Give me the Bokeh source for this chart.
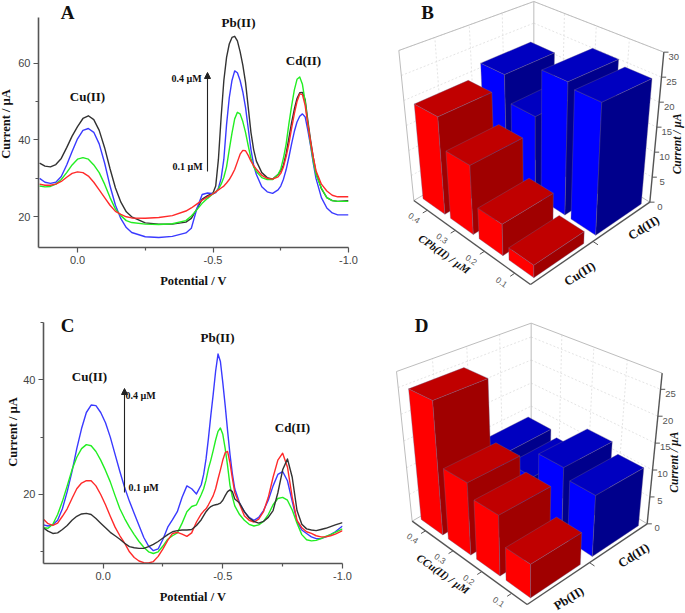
from math import pi
from bokeh.plotting import figure
from bokeh.layouts import column, row
from bokeh.models import Label, Arrow, NormalHead, FixedTicker, Range1d
from bokeh.core.properties import value
from bokeh.embed import file_html
from bokeh.resources import INLINE

# ---------- panel A data ----------
a_potential = [0.14,0.12,0.10,0.08,0.06,0.04,0.02,0.0,-0.02,-0.04,-0.06,-0.08,-0.10,-0.12,-0.14,-0.16,-0.18,-0.2,-0.25,-0.3,-0.35,-0.4,-0.42,-0.44,-0.46,-0.48,-0.5,
               -0.51,-0.52,-0.53,-0.54,-0.55,-0.56,-0.57,-0.58,-0.59,-0.6,-0.61,-0.62,-0.63,-0.64,-0.65,-0.66,-0.68,-0.7,-0.72,-0.74,-0.75,
               -0.76,-0.77,-0.78,-0.79,-0.8,-0.81,-0.82,-0.83,-0.84,-0.85,-0.86,-0.87,-0.88,-0.9,-0.92,-0.94,-0.96,-1.0]
a_black = [34,33.2,33,33.6,35.2,38,41,43.5,45.6,46.3,45.3,42.5,38,32.5,27.5,23.8,21.3,20,18.4,18.1,18.1,18.6,19.6,22,24.6,25.5,26.2,
           28,35,46,55.5,61.5,65,66.7,67,65.8,63,59.5,55,48.5,42,37.5,34.5,31.5,30.2,29.8,31,32,
           33.5,36.5,40.5,44.5,48,50.8,52.3,52.4,50.5,45,40,35.5,31.5,27.3,25,24.2,24,24.2]
a_blue = [30,29,28.7,29,30.5,33.5,37,40.3,42.5,43,42,39,34,28,23,19.5,17.2,15.9,14.8,14.6,14.9,15.8,17,22,25.8,26.2,26,
          26.3,27.5,30,35,44,51,55.5,58,57.5,55.5,52.5,48.5,43,37.5,33.5,31,27.8,26.5,26.1,27,28,
          29.8,32.3,35.5,39,42.2,44.7,46.2,46.8,46,42.5,38.5,34,30,25,22.3,21,20.5,20.5]
a_green = [28,27.8,27.9,28.5,29.7,31.5,33.5,35,35.4,35,33.5,31.5,28.5,25,22,20.3,19,18.5,18.1,18,18.2,19,20.2,21.8,23.5,24.8,26,
           26.5,27.2,28.5,30.3,33,37.5,41.8,45.5,47.2,46.8,44.8,42,38.5,35.2,33,31.8,30.2,29.7,29.7,31,32.4,
           35.3,39,44.2,48.8,53,55.8,56.4,54.5,50,44.2,39,34.5,31,27.5,25,24.2,24,24]
a_red = [28.5,28.2,28.2,28.5,29.2,30.3,31.3,31.7,31.5,30.6,29,27,25,23,21.4,20.6,20,19.7,19.6,19.8,20.3,21.5,22.3,23.3,24.3,25.2,26,
         26.5,27,27.5,28,28.8,29.7,30.9,32.3,34.3,36.3,37.3,37.2,36,34.5,33.3,32.4,30.8,30,29.8,30.4,31.3,
         33,35.7,39,43,46.8,50,52,51.8,49,44,39.5,35.5,32,28.5,26.7,25.6,25.2,25.2]

# ---------- panel C data ----------
c_potential = [0.25,0.23,0.21,0.19,0.17,0.15,0.13,0.11,0.09,0.07,0.05,0.03,0.01,-0.01,-0.03,-0.05,-0.07,-0.09,-0.11,-0.13,-0.15,-0.17,-0.19,-0.21,-0.23,-0.25,-0.27,-0.29,-0.31,-0.33,-0.35,-0.37,-0.39,
               -0.41,-0.42,-0.43,-0.44,-0.45,-0.46,-0.47,-0.48,-0.49,-0.5,-0.51,-0.52,-0.53,-0.54,-0.55,
               -0.57,-0.59,-0.61,-0.63,-0.65,-0.67,-0.69,-0.71,-0.73,-0.75,-0.77,-0.79,-0.81,-0.83,-0.85,-0.87,-0.89,-0.91,-0.93,-0.95,-0.97,-1.0]
c_blue = [14.7,14.5,14.7,15.5,17.5,20.5,24,28,31.5,34.3,35.6,35.5,34.3,32.5,30,27,24,21.2,18.8,16.7,14.6,12.5,11,10.2,10.5,12.2,14.3,15.6,17,19.5,21.5,21,20.1,
          21.7,23.5,26.2,29.8,33.8,37.5,41.5,44.5,43.2,39.5,35.5,31.1,27,23.6,21,
          18.5,17,16,15.5,16,17.2,19,21.5,23.5,24,22.4,18.8,15.3,13.8,13.2,12.6,12.3,12.3,12.6,13,13.5,14.5]
c_green = [14.2,14.1,14.8,16.5,18.8,21.5,24.3,26.5,28,28.7,28.5,27.5,26,24.2,22.2,19.8,17.5,15.8,14.3,13,11.8,10.8,10,9.7,10,11,12.2,12.8,13.3,15,17,17.9,18.2,
           20,21,22.5,24.5,26,27.7,29.5,31,31.6,30.5,28,25,21.6,19.6,18,
           16.5,15.5,14.8,14.5,14.7,15.3,16.5,18.2,19.3,19.5,19,17.3,15,13,12.1,11.9,12,12.3,12.7,13,13.4,14]
c_red = [15.7,14.9,14.6,15,16.2,17.5,19.3,21,22,22.4,22.4,21.5,20,18.2,16.2,14.3,12.8,11.5,10,9,8.4,8.1,8.05,8.3,9.2,10.5,12,13.2,13.4,13.1,12.7,13.3,15.2,
         16.6,17.1,17.5,18.2,19,19.8,21,22.7,24.3,26,27.3,27.5,25.5,22.8,20.3,
         18.3,16.3,15.5,15.2,15.7,17,19.5,23,26,27.2,24.8,19.5,15.5,14.2,13.5,13.2,12.8,12.6,12.6,12.8,13.1,13.7]
c_black = [14.2,13.6,13.2,13.3,13.9,14.6,15.5,16.2,16.6,16.7,16.5,15.8,15,14.2,13.4,12.8,12.2,11.5,10.9,10.7,10.6,10.6,10.9,11.3,11.8,12.4,13,13.5,13.7,13.8,13.8,13.9,14.6,
           15.6,16.3,17,17.5,17.9,18.1,18.2,18.3,18.5,19,19.8,20.5,20.8,20.5,19.2,
           18.5,17,15.9,15.3,15,15.3,16,17.2,20.3,24.3,26.2,23,17.2,14.8,14,13.8,13.7,13.9,14.1,14.4,14.7,15.1]

# ---------- panels B and D data ----------
conc_labels = ["0.4", "0.3", "0.2", "0.1"]
b_series_labels = ["Cu(II)", "Cd(II)"]
b_red_values = [19, 13, 5.7, 2.2]
b_blue_values = [21.5, 16, 26, 25]
b_z_ticks = [0, 5, 10, 15, 20, 25, 30]
d_series_labels = ["Pb(II)", "Cd(II)"]
d_red_values = [24.5, 12.7, 10.3, 5.5]
d_blue_values = [8.6, 7.5, 12.5, 10.7]
d_z_ticks = [0, 5, 10, 15, 20, 25]

SERIF = "Liberation Serif"
SANS = "Liberation Sans"
AXC = "#555555"
LINE_COLORS = dict(black="#333333", blue="#3a3aff", green="#22ee22", red="#ff2a2a")


def line_panel(width, height, left, right, top, bottom, xr, yr, yticks, yminor, curves, texts, ylab_standoff, shift=0):
    # the frame runs to the top of the figure, the y axis stops at its own limit
    kx = (xr[1] - xr[0]) / (right - left)
    ky = (yr[1] - yr[0]) / (bottom - top)
    y_end = yr[1] + top * ky
    p = figure(width=width, height=height, output_backend="svg", toolbar_location=None, title=None,
               x_range=Range1d(xr[0], xr[1]), y_range=Range1d(yr[0], y_end),
               min_border_left=left, min_border_right=width - right, min_border_top=0,
               min_border_bottom=height - bottom, margin=(0, 0, 0, -shift))
    p.frame_width = right - left
    p.frame_height = bottom
    p.grid.visible = False
    p.outline_line_color = None
    p.xaxis.ticker = FixedTicker(ticks=[0, -0.5, -1.0], minor_ticks=[-0.25, -0.75])
    p.xaxis.major_label_overrides = {0: "0.0", -0.5: "-0.5", -1.0: "-1.0"}
    p.yaxis.ticker = FixedTicker(ticks=yticks, minor_ticks=yminor)
    p.yaxis.bounds = (yr[0], yr[1])
    p.xaxis.axis_label = "Potential / V"
    p.yaxis.axis_label = "Current / µA"
    p.xaxis.axis_label_standoff = 7
    p.yaxis.axis_label_standoff = ylab_standoff
    for ax in (p.xaxis, p.yaxis):
        ax.axis_line_color = AXC
        ax.axis_line_width = 1.6
        ax.major_tick_line_color = AXC
        ax.minor_tick_line_color = AXC
        ax.major_tick_line_width = 1.2
        ax.minor_tick_line_width = 1.2
        ax.major_tick_in = 0
        ax.minor_tick_in = 0
        ax.major_tick_out = 5
        ax.minor_tick_out = 3
        ax.major_label_text_font = SANS
        ax.major_label_text_font_size = "11px"
        ax.major_label_text_color = "#444444"
        ax.major_label_standoff = 3
        ax.axis_label_text_font = SERIF
        ax.axis_label_text_font_size = "12.5px"
        ax.axis_label_text_font_style = "bold"
        ax.axis_label_text_color = "#111111"
    xs, names = curves
    for name, ys in names:
        p.line(xs, ys, line_color=LINE_COLORS[name], line_width=1.4, line_join="round")

    def to_data(px, py):
        x = xr[0] + (px + shift - left) * kx
        y = yr[1] - (py - top) * ky
        return x, y

    for txt, px, py, size, style in texts:
        x, y = to_data(px, py)
        p.add_layout(Label(x=x, y=y, text=txt, text_font=SERIF, text_font_size=size,
                           text_font_style=style, text_color="#111111", text_align="center",
                           text_baseline="middle"))
    return p, to_data


def homography(q):
    (x0, y0), (x1, y1), (x2, y2), (x3, y3) = q
    dx1, dx2, sx = x1 - x2, x3 - x2, x0 - x1 + x2 - x3
    dy1, dy2, sy = y1 - y2, y3 - y2, y0 - y1 + y2 - y3
    den = dx1 * dy2 - dx2 * dy1
    g = (sx * dy2 - dx2 * sy) / den
    h = (dx1 * sy - sx * dy1) / den
    a, b, c = x1 - x0 + g * x1, x3 - x0 + h * x3, x0
    d, e, f = y1 - y0 + g * y1, y3 - y0 + h * y3, y0

    def m(s, t):
        w = g * s + h * t + 1
        return (a * s + b * t + c) / w, (d * s + e * t + f) / w
    return m


def bars_panel(y0, floor, ceil, zmax, z_ticks, red, blue, series, letter, letter_xy, xlabel, xlabel_xy, ylab_xy, ser_xy):
    # canvas is addressed in units of one third of a pixel, origin at the panel's crop corner
    height = 300 if y0 == 0 else 313
    off = 0 if y0 == 0 else 30
    p = figure(width=305, height=height, frame_width=305, frame_height=height,
               output_backend="svg", toolbar_location=None, title=None,
               x_range=Range1d(0, 915), y_range=Range1d(height * 3 - off, -off),
               x_axis_location=None, y_axis_location=None,
               min_border_left=0, min_border_right=0, min_border_top=0, min_border_bottom=0)
    p.grid.visible = False
    p.outline_line_color = None
    F = homography(floor)
    T = homography(ceil)

    def P(u, v, z):
        fx, fy = F(u, v)
        tx, ty = T(u, v)
        k = z / zmax
        return fx + k * (tx - fx), fy + k * (ty - fy)

    def seg(a, b, color, width=1.0, dash="solid"):
        p.line([a[0], b[0]], [a[1], b[1]], line_color=color, line_width=width, line_dash=dash)

    # back walls and floor: dotted grid
    grid_c = "#dddddd"
    for z in z_ticks[1:]:
        seg(P(0, 0, z), P(0, 1, z), grid_c, 0.8, "2 2")
        seg(P(0, 1, z), P(1, 1, z), grid_c, 0.8, "2 2")
    for t in (0.25, 0.5, 0.75):
        seg(P(t, 1, 0), P(t, 1, zmax), grid_c, 0.8, "2 2")
        seg(P(0, t, 0), P(0, t, zmax), grid_c, 0.8, "2 2")
    # wall outline
    wall = "#bdbdbd"
    seg(P(0, 0, zmax), P(0, 1, zmax), wall, 1.0)
    seg(P(0, 1, zmax), P(1, 1, zmax), wall, 1.0)
    seg(P(0, 0, 0), P(0, 0, zmax), wall, 1.0)
    seg(P(0, 1, 0), P(0, 1, zmax), wall, 1.0)
    seg(P(0, 0, 0), P(0, 1, 0), wall, 1.0)
    seg(P(0, 1, 0), P(1, 1, 0), wall, 1.0)

    # axes
    seg(P(0, 0, 0), P(1, 0, 0), AXC, 1.4)
    seg(P(1, 0, 0), P(1, 1, 0), AXC, 1.4)
    seg(P(1, 1, 0), P(1, 1, zmax), AXC, 1.4)
    uc = [0.125, 0.375, 0.625, 0.875]
    for u, lab in zip(uc, conc_labels):
        seg(P(u, 0, 0), P(u, -0.035, 0), AXC, 1.0)
        x, y = P(u, -0.1, 0)
        p.text([x], [y], text=[lab], angle=-0.61, text_font=value(SANS), text_font_size="8.5px",
               text_color="#555555", text_align="center", text_baseline="middle")
    seg(P(1, 0.5, 0), P(1.04, 0.5, 0), AXC, 1.0)
    for z in z_ticks:
        a = P(1, 1, z)
        seg(a, (a[0] + 14, a[1]), AXC, 1.0)
        p.text([a[0] + 30], [a[1] + 13], text=[str(z)], text_font=value(SANS), text_font_size="9.5px",
               text_color="#555555", text_align="center", text_baseline="middle")

    # bars
    ws, wv = 0.2, 0.4
    shades = {"red": ("#ff0000", "#a00000", "#c00000"), "blue": ("#0000ff", "#00008c", "#0000c0")}

    def bar(u, v, z, kind):
        u0, u1, v0, v1 = u - ws / 2, u + ws / 2, v - wv / 2, v + wv / 2
        bright, dark, top = shades[kind]
        faces = [
            ([(u0, v0, 0), (u1, v0, 0), (u1, v0, z), (u0, v0, z)], bright),
            ([(u1, v0, 0), (u1, v1, 0), (u1, v1, z), (u1, v0, z)], dark),
            ([(u0, v0, z), (u1, v0, z), (u1, v1, z), (u0, v1, z)], top),
        ]
        for pts, col in faces:
            qs = [P(*q) for q in pts]
            p.patch([q[0] for q in qs], [q[1] for q in qs], fill_color=col,
                    line_color="#70608a", line_width=0.5, line_alpha=0.7)

    for u, r, b in zip(uc, red, blue):
        bar(u, 0.75, b, "blue")
        bar(u, 0.25, r, "red")

    def txt(s, xy, size, style="bold", ang=0.0, color="#111111"):
        p.text([xy[0]], [xy[1]], text=[s], angle=ang, text_font=value(SERIF), text_font_size=size,
               text_font_style=style, text_color=color, text_align="center", text_baseline="middle")

    txt(letter, letter_xy, "19px")
    txt(xlabel, xlabel_xy, "11px", "bold italic", -0.61)
    txt("Current / µA", ylab_xy, "11.5px", "bold italic", pi / 2)
    txt(series[0], ser_xy[0], "12.5px", "bold", 0.56)
    txt(series[1], ser_xy[1], "12.5px", "bold", 0.56)
    return p


# ---------- build ----------
a_texts = [
    ("A", 67, 12, "19px", "bold"), ("Cu(II)", 87, 96, "13px", "bold"),
    ("Pb(II)", 238, 22, "13px", "bold"), ("Cd(II)", 303, 60, "13px", "bold"),
    ("0.4 µM", 186, 78, "10px", "bold"), ("0.1 µM", 187, 166, "10px", "bold"),
]
pa, a_xy = line_panel(384, 300, 42, 352, 17, 247, (0.144, -1.0), (12.0, 71.9), [20, 40, 60], [30, 50],
                      (a_potential, [("black", a_black), ("blue", a_blue), ("green", a_green), ("red", a_red)]), a_texts, 2, shift=4)
x1, y1 = a_xy(207, 171)
x2, y2 = a_xy(207, 72)
pa.add_layout(Arrow(end=NormalHead(size=6, fill_color="#222222", line_color="#222222"),
                    x_start=x1, y_start=y1, x_end=x2, y_end=y2, line_color="#222222", line_width=1.1))

c_texts = [
    ("C", 67, 25, "19px", "bold"), ("Cu(II)", 89, 76, "13px", "bold"),
    ("Pb(II)", 217, 37, "13px", "bold"), ("Cd(II)", 292, 127, "13px", "bold"),
    ("0.4 µM", 140, 95, "10px", "bold"), ("0.1 µM", 143, 187, "10px", "bold"),
]
pc, c_xy = line_panel(380, 313, 43, 342, 22, 263, (0.249, -1.0), (7.96, 50.0), [20, 40], [10, 30, 50],
                      (c_potential, [("blue", c_blue), ("green", c_green), ("red", c_red), ("black", c_black)]), c_texts, 0)
x1, y1 = c_xy(124, 192)
x2, y2 = c_xy(124, 88)
pc.add_layout(Arrow(end=NormalHead(size=6, fill_color="#222222", line_color="#222222"),
                    x_start=x1, y_start=y1, x_end=x2, y_end=y2, line_color="#222222", line_width=1.1))

pb = bars_panel(0,
                [(100, 600), (450, 852), (808, 605), (460, 392)],
                [(55, 150), (447, 330), (850, 155), (460, 3)],
                30, b_z_ticks, b_red_values, b_blue_values, b_series_labels,
                "B", (141, 35), "CPb(II) / µM", (192, 760), (888, 430), [(598, 820), (790, 682)])
pd = bars_panel(310,
                [(95, 632), (440, 882), (800, 640), (452, 425)],
                [(48, 183), (440, 362), (845, 188), (452, 38)],
                28, d_z_ticks, d_red_values, d_blue_values, d_series_labels,
                "D", (123, 45), "CCu(II) / µM", (188, 790), (880, 455), [(565, 864), (760, 735)])

page = column(row(pa, pb, spacing=0), row(pc, pd, spacing=0), spacing=0)
open("out.html", "w").write(file_html(page, INLINE))
